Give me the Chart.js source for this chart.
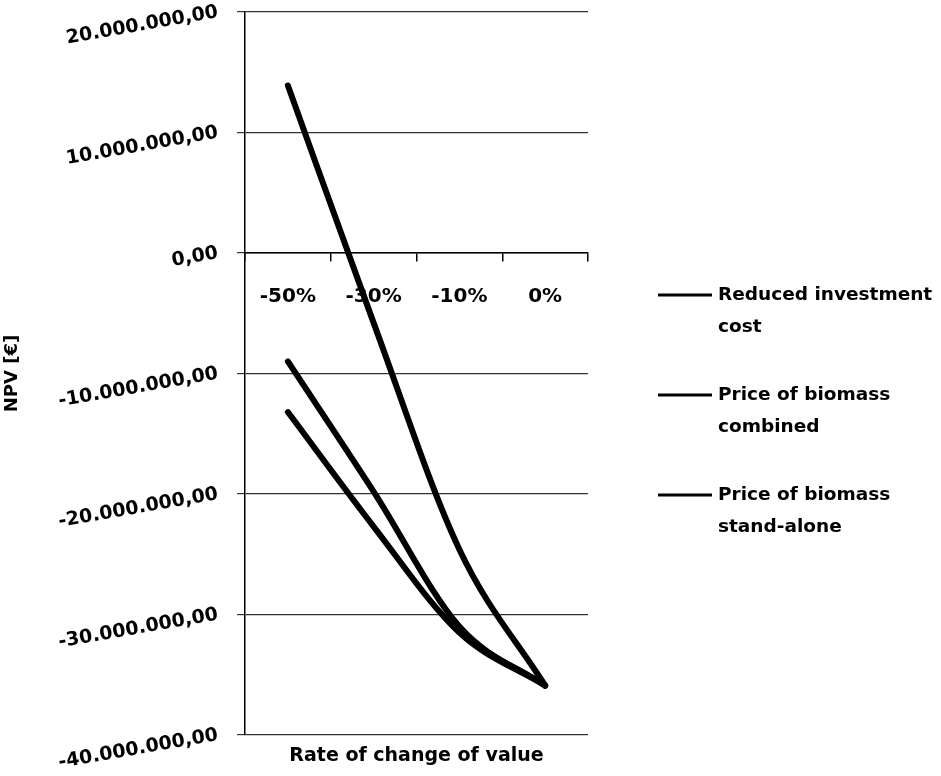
<!DOCTYPE html>
<html>
<head>
<meta charset="utf-8">
<script src="https://cdn.jsdelivr.net/npm/chart.js@4.4.1/dist/chart.umd.min.js"></script>
<style>
  html, body { margin: 0; padding: 0; background: #fff; }
  canvas { display: block; }
</style>
</head>
<body>
<canvas id="npvChart" width="941" height="776"></canvas>
<script>
// rate of change categories
var categories = ['-50%', '-30%', '-10%', '0%'];

// NPV values in euro
var reducedInvestment = [13900000, -5800000, -24600000, -35900000];
var biomassCombined = [-9000000, -19800000, -31000000, -35900000];
var biomassStandAlone = [-13200000, -22700000, -31500000, -35900000];

var seriesNames = ['Reduced investment cost', 'Price of biomass combined', 'Price of biomass stand-alone'];
var legendLines = [
    ['Reduced investment', 'cost'],
    ['Price of biomass', 'combined'],
    ['Price of biomass', 'stand-alone']
];

var yMin = -40000000, yMax = 20000000, yStep = 10000000;

function formatEuro(v) {
    var neg = v < 0;
    var s = Math.abs(Math.round(v)).toString();
    var out = '';
    while (s.length > 3) {
        out = '.' + s.slice(-3) + out;
        s = s.slice(0, -3);
    }
    out = s + out + ',00';
    return (neg ? '-' : '') + out;
}

Chart.defaults.font.family = "'DejaVu Sans', sans-serif";
Chart.defaults.font.weight = 'bold';
Chart.defaults.color = '#000';

// legend drawn at the right, text wrapped on two lines like the original
var sideLegend = {
    id: 'sideLegend',
    afterDraw: function(chart) {
        var ctx = chart.ctx;
        var x0 = 658, lineLen = 54, textX = 718;
        var y0 = 295, itemGap = 100, lineGap = 32;
        ctx.save();
        ctx.font = 'bold 18.5px "DejaVu Sans"';
        ctx.fillStyle = '#000';
        ctx.textBaseline = 'middle';
        chart.data.datasets.forEach(function(ds, i) {
            var y = y0 + i * itemGap;
            ctx.strokeStyle = ds.borderColor;
            ctx.lineWidth = 3;
            ctx.beginPath();
            ctx.moveTo(x0, y);
            ctx.lineTo(x0 + lineLen, y);
            ctx.stroke();
            legendLines[i].forEach(function(t, j) {
                ctx.fillText(t, textX, y + j * lineGap);
            });
        });
        ctx.restore();
    }
};

var lineStyle = {
    borderColor: '#000',
    backgroundColor: '#000',
    borderWidth: 6,
    pointRadius: 0,
    fill: false,
    cubicInterpolationMode: 'monotone',
    borderCapStyle: 'round',
    borderJoinStyle: 'round'
};

var CHART = document.getElementById('npvChart');
var npvChart = new Chart(CHART, {
    type: 'line',
    data: {
        labels: categories,
        datasets: [
            Object.assign({ label: seriesNames[0], data: reducedInvestment }, lineStyle),
            Object.assign({ label: seriesNames[1], data: biomassCombined }, lineStyle),
            Object.assign({ label: seriesNames[2], data: biomassStandAlone }, lineStyle)
        ]
    },
    options: {
        responsive: false,
        animation: false,
        devicePixelRatio: 1,
        layout: { padding: { left: 0, right: 353, top: 0, bottom: 0 } },
        plugins: {
            legend: { display: false },
            tooltip: { enabled: false }
        },
        scales: {
            x: {
                type: 'category',
                position: { y: 0 },
                offset: true,
                grid: {
                    offset: true,
                    drawOnChartArea: false,
                    drawTicks: true,
                    tickLength: 8,
                    color: '#000',
                    lineWidth: 1.5
                },
                border: { display: true, color: '#000', width: 1.5 },
                ticks: {
                    font: { size: 20, weight: 'bold' },
                    padding: 24,
                    maxRotation: 0,
                    minRotation: 0
                },
                afterFit: function(scale) { scale.height = 0; }
            },
            x2: {
                type: 'category',
                position: 'bottom',
                offset: true,
                grid: { display: false },
                border: { display: false },
                ticks: { display: false },
                title: {
                    display: true,
                    text: 'Rate of change of value',
                    font: { size: 19, weight: 'bold' },
                    padding: { top: 0, bottom: 9 }
                },
                afterFit: function(scale) { scale.height = 41; }
            },
            y: {
                min: yMin,
                max: yMax,
                ticks: {
                    stepSize: yStep,
                    font: { size: 19, weight: 'bold' },
                    padding: 19,
                    minRotation: 10,
                    maxRotation: 10,
                    callback: function(v) { return formatEuro(v); }
                },
                grid: {
                    color: '#333',
                    lineWidth: 1.2,
                    tickLength: 8
                },
                border: { display: true, color: '#000', width: 1.5 },
                title: {
                    display: true,
                    text: 'NPV [€]',
                    font: { size: 18, weight: 'bold' },
                    padding: { top: 2, bottom: 0 }
                },
                afterFit: function(scale) {
                    scale.width = 245;
                    scale.paddingTop = 12;
                    scale.paddingBottom = 0;
                }
            }
        }
    },
    plugins: [sideLegend]
});
</script>
</body>
</html>
